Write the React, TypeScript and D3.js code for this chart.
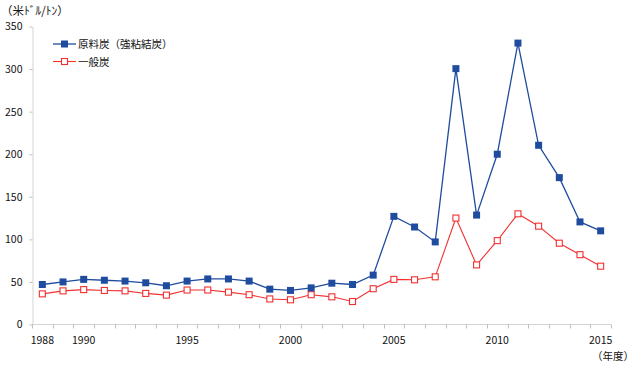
import React, { useEffect, useRef } from "react";
import * as d3 from "d3";

const years = d3.range(1988, 2016).map(String);
const labelYears = ["1988", "1990", "1995", "2000", "2005", "2010", "2015"];
const yTicks = [0, 50, 100, 150, 200, 250, 300, 350];

// 原料炭（強粘結炭）
const coking = [
	47, 50, 53, 52, 51, 49, 45.5, 51, 53.5, 53.5, 51, 41.5, 40, 43, 48.5, 47,
	58, 127, 114.5, 97, 300.5, 128.5, 200, 330.5, 210.5, 172.5, 120.5, 110,
];
// 一般炭
const steam = [
	36, 39.5, 41, 40, 39.5, 36.5, 34.5, 40.5, 40.5, 38, 35, 30, 29, 35, 32.5,
	27, 42, 53, 52.5, 56, 125, 70, 98.5, 130, 115.5, 95.5, 82, 68.5,
];

const seriesNames = ["原料炭（強粘結炭）", "一般炭"];
const BLUE = "#1f4c9f";
const RED = "#f23030";

const W = 637;
const H = 366;
const FONT = "'Noto Sans CJK JP', 'Noto Sans', sans-serif";

export default function App() {
	const ref = useRef<SVGSVGElement | null>(null);

	useEffect(() => {
		const svg = d3.select(ref.current);
		svg.selectAll("*").remove();

		const x = d3.scaleBand().domain(years).range([32, 611]).padding(0);
		const y = d3.scaleLinear().domain([0, 350]).range([324.5, 26.5]);
		const cx = (d: string) => (x(d) as number) + x.bandwidth() / 2;

		// y axis
		const yAxis = svg
			.append("g")
			.attr("transform", "translate(32.5,0)")
			.call(d3.axisLeft(y).tickValues(yTicks).tickSize(3).tickSizeOuter(0).tickPadding(7));
		yAxis.select(".domain").attr("stroke", "#d4d4d4");
		yAxis.selectAll(".tick line").attr("stroke", "#bfbfbf");
		yAxis
			.selectAll("text")
			.attr("font-family", FONT)
			.attr("font-size", 10.5)
			.attr("fill", "#111");

		// x axis: ticks on category boundaries
		const xg = svg.append("g");
		xg.append("line")
			.attr("x1", 32)
			.attr("x2", 611)
			.attr("y1", 324.5)
			.attr("y2", 324.5)
			.attr("stroke", "#d4d4d4");
		const bounds = years.map(d => x(d) as number).concat([611]);
		xg.selectAll("line.tk")
			.data(bounds)
			.enter()
			.append("line")
			.attr("class", "tk")
			.attr("x1", d => Math.round(d) + 0.5)
			.attr("x2", d => Math.round(d) + 0.5)
			.attr("y1", 324.5)
			.attr("y2", 328.5)
			.attr("stroke", "#bfbfbf");
		xg.selectAll("text")
			.data(labelYears)
			.enter()
			.append("text")
			.attr("x", d => cx(d))
			.attr("y", 344)
			.attr("text-anchor", "middle")
			.attr("font-family", FONT)
			.attr("font-size", 10.5)
			.attr("fill", "#111")
			.text(d => d);

		// unit labels
		svg.append("text")
			.attr("x", 1)
			.attr("y", 15)
			.attr("font-family", FONT)
			.attr("font-size", 11.5)
			.attr("fill", "#111")
			.text("（米ﾄﾞﾙ/ﾄﾝ）");
		svg.append("text")
			.attr("x", 634)
			.attr("y", 360)
			.attr("text-anchor", "end")
			.attr("font-family", FONT)
			.attr("font-size", 10.5)
			.attr("fill", "#111")
			.text("（年度）");

		const line = d3
			.line<number>()
			.x((_, i) => cx(years[i]))
			.y(d => y(d));

		// 一般炭
		svg.append("path")
			.datum(steam)
			.attr("fill", "none")
			.attr("stroke", RED)
			.attr("stroke-width", 1.1)
			.attr("d", line);
		svg.selectAll("rect.steam")
			.data(steam)
			.enter()
			.append("rect")
			.attr("class", "steam")
			.attr("x", (_, i) => cx(years[i]) - 3)
			.attr("y", d => y(d) - 3)
			.attr("width", 6)
			.attr("height", 6)
			.attr("fill", "#fff")
			.attr("stroke", RED)
			.attr("stroke-width", 1.1);

		// 原料炭
		svg.append("path")
			.datum(coking)
			.attr("fill", "none")
			.attr("stroke", BLUE)
			.attr("stroke-width", 1.3)
			.attr("d", line);
		svg.selectAll("rect.coking")
			.data(coking)
			.enter()
			.append("rect")
			.attr("class", "coking")
			.attr("x", (_, i) => cx(years[i]) - 3.5)
			.attr("y", d => y(d) - 3.5)
			.attr("width", 7)
			.attr("height", 7)
			.attr("fill", BLUE);

		// Legend
		const legend = svg.append("g");
		seriesNames.forEach((name, i) => {
			const ly = 44 + i * 17.5;
			const col = i === 0 ? BLUE : RED;
			legend.append("line")
				.attr("x1", 53)
				.attr("x2", 76)
				.attr("y1", ly)
				.attr("y2", ly)
				.attr("stroke", col)
				.attr("stroke-width", i === 0 ? 1.3 : 1.1);
			if (i === 0) {
				legend.append("rect")
					.attr("x", 61)
					.attr("y", ly - 3.5)
					.attr("width", 7)
					.attr("height", 7)
					.attr("fill", col);
			} else {
				legend.append("rect")
					.attr("x", 61.5)
					.attr("y", ly - 3)
					.attr("width", 6)
					.attr("height", 6)
					.attr("fill", "#fff")
					.attr("stroke", col)
					.attr("stroke-width", 1.1);
			}
			legend.append("text")
				.attr("x", 78)
				.attr("y", ly + 4)
				.attr("font-family", FONT)
				.attr("font-size", 10.5)
				.attr("fill", "#111")
				.text(name);
		});
	}, []);

	return (
		<svg
			ref={ref}
			width={W}
			height={H}
			viewBox={`0 0 ${W} ${H}`}
			style={{ position: "absolute", left: 0, top: 0, background: "#fff" }}
		/>
	);
}
